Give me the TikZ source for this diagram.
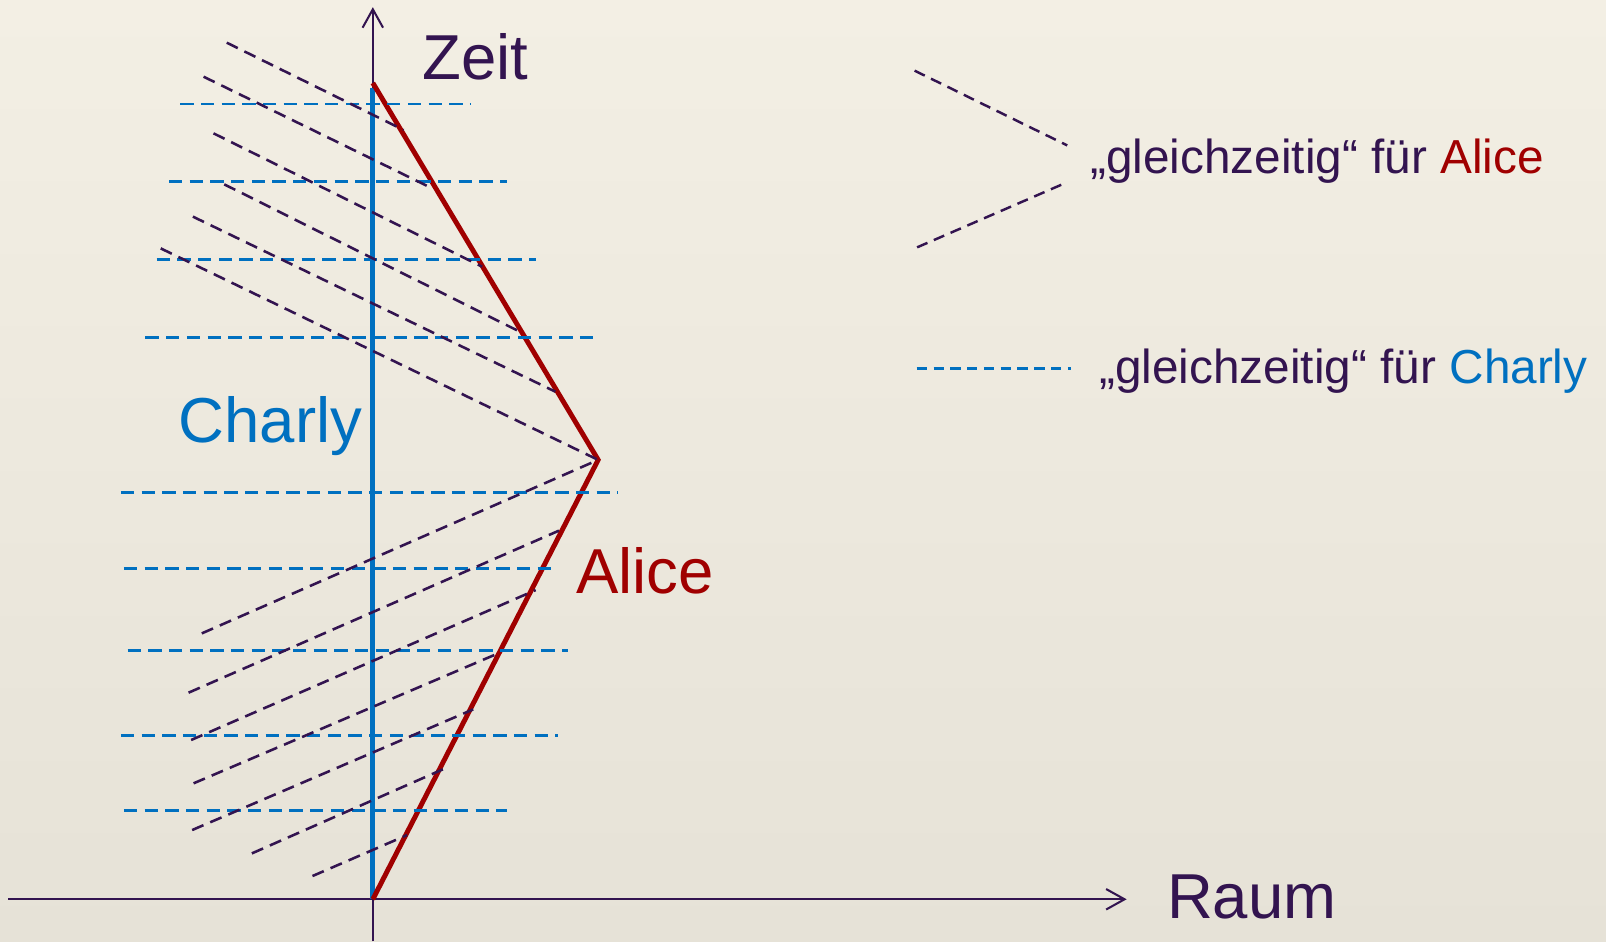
\documentclass[tikz,border=0pt]{standalone}
\usepackage{fontspec}
\setmainfont{Liberation Sans}
\usetikzlibrary{arrows.meta}
\definecolor{ink}{HTML}{331450}
\definecolor{cblue}{HTML}{0070C0}
\definecolor{cred}{HTML}{A00000}
\definecolor{bgtop}{HTML}{F3EFE4}
\definecolor{bgbot}{HTML}{E6E2D7}
\tikzset{
  axis/.style={draw=ink, line width=1pt},
  charlyline/.style={draw=cblue, line width=2.5pt},
  aliceline/.style={draw=cred, line width=2.4pt, line join=miter},
  simc/.style={draw=cblue, line width=1.4pt, dash pattern=on 6.5pt off 3.6pt},
  sima/.style={draw=ink, line width=1.25pt, dash pattern=on 6pt off 3.6pt},
  legc/.style={draw=cblue, line width=1.2pt, dash pattern=on 5pt off 3.2pt},
  lega/.style={draw=ink, line width=1.2pt, dash pattern=on 5.5pt off 3.4pt},
  bigtxt/.style={anchor=base west, inner sep=0pt, font=\fontsize{31}{36}\selectfont},
  legtxt/.style={anchor=base west, inner sep=0pt, text=ink, font=\fontsize{23.3}{28}\selectfont},
}
\begin{document}
\begin{tikzpicture}[x=0.5pt,y=-0.5pt]
\path[use as bounding box, top color=bgtop, bottom color=bgbot] (0,0) rectangle (1568,919);
% key points
\coordinate (O) at (364,878);
\coordinate (P) at (584,449);
\coordinate (T) at (364,81);
\coordinate (C) at (364,86);
\coordinate (xl) at (8,878);
\coordinate (xr) at (1100,878);
\coordinate (yb) at (364,919);
\coordinate (yt) at (364,7);
% axes
\draw[axis, -{Straight Barb[length=9pt,width=10pt,line width=1pt]}] (xl) -- (xr);
\draw[axis, -{Straight Barb[length=9pt,width=10pt,line width=1pt]}] (yb) -- (yt);
% world lines
\draw[charlyline] (O) -- (C);
\draw[aliceline] (O) -- (P) -- (T);
% Charly simultaneity
\foreach \y/\a/\b in {101.6/176/460, 177.4/165/495, 253.2/153/523, 329.4/142/585,
                      480.7/118/603, 555.2/121/544, 635/124.5/554.6, 718/118/545, 791.5/121/495}
  \draw[simc] (\a,\y) -- (\b,\y);
% Alice simultaneity (outbound)
\draw[sima] (221.4,41.7) -- (394.1,126.9);
\draw[sima] (198.8,74.9) -- (421.9,183.9);
\draw[sima] (208.5,130.2) -- (470.7,260.4);
\draw[sima] (219,180) -- (510.8,325.5);
\draw[sima] (188.3,211.5) -- (542.2,382.4);
\draw[sima] (156.9,242.5) -- (P);
% Alice simultaneity (inbound)
\draw[sima] (197,618.4) -- (P);
\draw[sima] (184.1,676.3) -- (545.7,518.1);
\draw[sima] (186.6,722.5) -- (523,576.1);
\draw[sima] (189,764.8) -- (486.4,637.9);
\draw[sima] (187.6,810.4) -- (462,692.6);
\draw[sima] (245.9,833.2) -- (432.4,751.1);
\draw[sima] (305.1,855.3) -- (397.5,815.3);
% labels
\node[bigtxt, text=ink] (zeit) at (412,77.5) {Zeit};
\node[bigtxt, text=ink] (raum) at (1139,897) {Raum};
\node[bigtxt, text=cblue] (charly) at (174,432) {Charly};
\node[bigtxt, text=cred] (alice) at (562,579) {Alice};
% legend
\coordinate (la1) at (893,69);
\coordinate (la2) at (1042,142);
\coordinate (la3) at (895.4,241.5);
\coordinate (la4) at (1037.8,179.7);
\coordinate (lc1) at (895,360);
\coordinate (lc2) at (1046,360);
\draw[lega] (la1) -- (la2);
\draw[lega] (la3) -- (la4);
\draw[legc] (lc1) -- (lc2);
\node[legtxt] (legA) at (1064,169) {„gleichzeitig“ für \textcolor{cred}{Alice}};
\node[legtxt] (legC) at (1073,374) {„gleichzeitig“ für \textcolor{cblue}{Charly}};
\end{tikzpicture}
\end{document}
